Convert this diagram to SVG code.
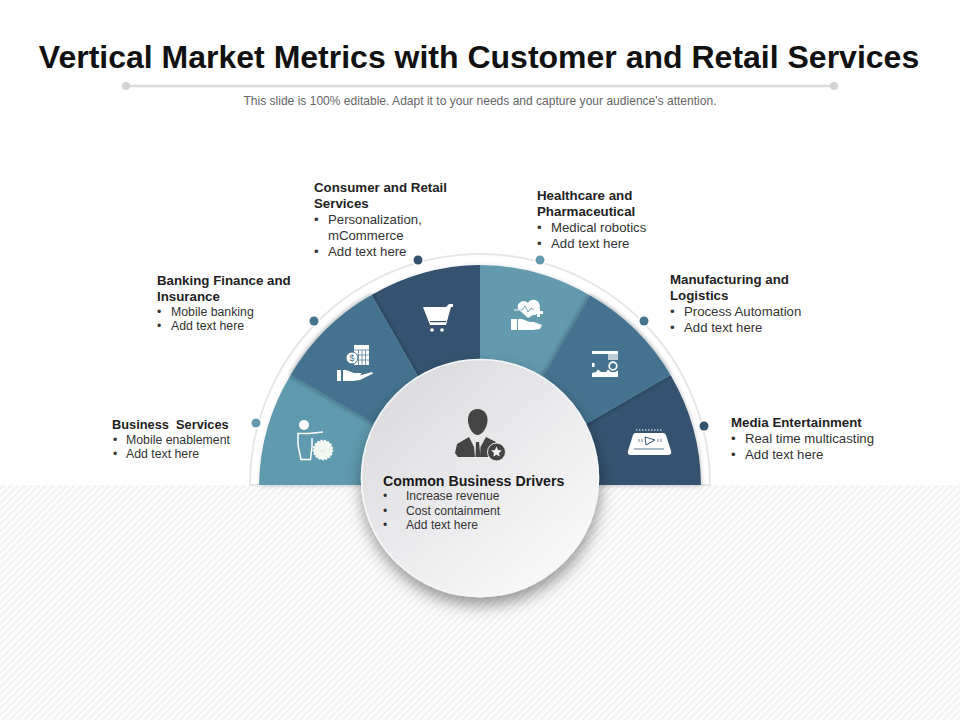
<svg xmlns="http://www.w3.org/2000/svg" width="960" height="720" viewBox="0 0 960 720">
<style>
text{font-family:"Liberation Sans",Arial,sans-serif;fill:#222}
.h{font-size:13.3px;font-weight:700}
.b{font-size:13.2px;fill:#333}
.s{font-size:12.3px;fill:#333}
.c{font-size:12.1px;fill:#333}
.i{fill:#fff}
.l{fill:none;stroke:#fff;stroke-width:1.500}
.d{stroke:#fff;stroke-width:3;paint-order:stroke}
</style>
<defs>
<pattern id="hatch" width="5" height="5" patternUnits="userSpaceOnUse" patternTransform="rotate(45)">
<rect width="5" height="5" fill="#fcfcfc"/><rect width="2" height="5" fill="#f2f2f2"/>
</pattern>
<linearGradient id="disc" x1="0.15" y1="0.1" x2="0.85" y2="0.9">
<stop offset="0" stop-color="#dcdcdf"/><stop offset="1" stop-color="#f9f9fa"/>
</linearGradient>
<filter id="seg" x="-30%" y="-30%" width="160%" height="160%"><feDropShadow dx="0" dy="0" stdDeviation="2.500" flood-color="#0a1a2a" flood-opacity="0.55"/></filter>
<filter id="soft" x="-10%" y="-10%" width="120%" height="120%"><feDropShadow dx="1" dy="1" stdDeviation="2" flood-color="#000" flood-opacity="0.2"/></filter>
<filter id="disc-s" x="-20%" y="-20%" width="140%" height="140%"><feDropShadow dx="1" dy="8" stdDeviation="8" flood-color="#000" flood-opacity="0.4"/></filter>
</defs>
<rect x="0" y="485" width="960" height="235" fill="url(#hatch)"/>
<g id="title">
<text x="479" y="68" text-anchor="middle" style="font-size:32px;font-weight:700;fill:#111">Vertical Market Metrics with Customer and Retail Services</text>
<line x1="126" y1="86" x2="834" y2="86" stroke="#dcdcdc" stroke-width="2.500"/>
<circle cx="126" cy="86" r="4" fill="#d4d4d4"/><circle cx="834" cy="86" r="4" fill="#d4d4d4"/>
<text x="480" y="105" text-anchor="middle" style="font-size:12.050px;fill:#666">This slide is 100% editable. Adapt it to your needs and capture your audience's attention.</text>
</g>
<g id="connectors">
<path d="M259 485H250A230 231 0 0 1 710 485H701" fill="#fff" stroke="#e4e6e8" stroke-width="2"/>
</g>
<g id="segments">
<g filter="url(#soft)">
<path d="M259 485A221 221 0 0 1 290.600 375L480 485Z" fill="#5f9aae"/>
<path d="M371.500 295A220 220 0 0 1 480 265V485Z" fill="#34526f"/>
<path d="M480 265A220 220 0 0 1 590 295.500L480 485Z" fill="#649aad"/>
<path d="M670.500 375A220 220 0 0 1 701 485H480Z" fill="#34526f"/>
</g>
<path filter="url(#seg)" d="M290.600 375A220 220 0 0 1 371.500 295L480 485Z" fill="#45738f"/>
<path filter="url(#seg)" d="M590 295.500A220 220 0 0 1 670.500 375L480 485Z" fill="#45738f"/>
</g>
<g id="node-business">
<circle cx="256" cy="423" r="4.500" fill="#5f9aae" class="d"/>
<circle cx="304" cy="425" r="5" class="i"/>
<path d="M323 432L309 433.500H298V445L301 459.500H310.500L312 447V438" class="l"/>
<circle cx="323" cy="450" r="9.500" fill="#f4f8f2" stroke="#fff" stroke-width="1.500" stroke-dasharray="2 1.500"/>
<path d="M320 450l2.500 2 3-3" fill="none" stroke="#cfe0c8" stroke-width="1"/>
<text class="h" x="112" y="429" style="font-size:12.800px" xml:space="preserve">Business  Services</text>
<text class="s"><tspan x="113" y="444">•</tspan><tspan x="126" y="444">Mobile enablement</tspan><tspan x="113" y="458">•</tspan><tspan x="126" y="458">Add text here</tspan></text>
</g>
<g id="node-banking">
<circle cx="314" cy="321" r="4.500" fill="#45738f" class="d"/>
<path d="M354 345H369V365H354Z" class="i"/>
<path d="M358.500 350V365M362 350V365M365.500 350V365M354 350H369M354 355H369M354 360H369" stroke="#45738f" stroke-width="0.700" fill="none"/>
<circle cx="352" cy="358" r="6" class="i" stroke="#45738f"/>
<text x="352" y="361" text-anchor="middle" style="font-size:9px;fill:#45738f">$</text>
<path d="M337 370H341V381H337ZM343 370H346L354 373H362L360 375.500 372 372 373 373.500 360 380 352 381H343Z" class="i"/>
<text class="h" x="157" y="285">Banking Finance and</text><text class="h" x="157" y="301">Insurance</text>
<text class="s"><tspan x="157" y="316">•</tspan><tspan x="171" y="316">Mobile banking</tspan><tspan x="157" y="330">•</tspan><tspan x="171" y="330">Add text here</tspan></text>
</g>
<g id="node-consumer">
<circle cx="418" cy="260" r="4.500" fill="#34526f" class="d"/>
<path d="M423 307H446L449 304H453V307H451L446 325H430Z" class="i"/>
<rect x="430" y="321" width="16" height="1.200" fill="#34526f"/>
<circle cx="432" cy="330" r="1.800" class="i"/><circle cx="442" cy="330" r="1.800" class="i"/>
<text class="h" x="314" y="192">Consumer and Retail</text><text class="h" x="314" y="208">Services</text>
<text class="b"><tspan x="314" y="224">•</tspan><tspan x="328" y="224">Personalization,</tspan><tspan x="328" y="240">mCommerce</tspan><tspan x="314" y="256">•</tspan><tspan x="328" y="256">Add text here</tspan></text>
</g>
<g id="node-healthcare">
<circle cx="540" cy="260" r="4.500" fill="#649aad" class="d"/>
<path d="M528 318L518 309A6 6 0 0 1 528 303A6 6 0 0 1 539 309V311H536V315H533Z" class="i"/>
<path d="M534 311h3v-3h3v3h3v3h-3v3h-3v-3h-3Z" class="i"/>
<path d="M514 310H522L525 306 528 312 531 308 534 310" fill="none" stroke="#649aad" stroke-width="0.900"/>
<line x1="514" y1="310" x2="521" y2="310" stroke="#fff" stroke-width="0.900"/>
<path d="M511 319H517V330H511ZM518 319H522L530 322H534L542 325 540 329 533 330H518Z" class="i"/>
<text class="h" x="537" y="200">Healthcare and</text><text class="h" x="537" y="216">Pharmaceutical</text>
<text class="b"><tspan x="537" y="232">•</tspan><tspan x="551" y="232">Medical robotics</tspan><tspan x="537" y="248">•</tspan><tspan x="551" y="248">Add text here</tspan></text>
</g>
<g id="node-manufacturing">
<circle cx="644" cy="321" r="4.500" fill="#45738f" class="d"/>
<rect x="592" y="351" width="26" height="3" class="i"/><rect x="592" y="363" width="2.500" height="4" class="i"/>
<rect x="608" y="354" width="10" height="6" class="i" opacity="0.650"/>
<circle cx="613" cy="366" r="3.800" fill="none" stroke="#fff" stroke-width="1.800"/>
<path d="M592 377V373L596 372 598 369.500 601 372 606 372 608 369.500 611 372 615 372 618 370.500V377Z" class="i"/>
<text class="h" x="670" y="284">Manufacturing and</text><text class="h" x="670" y="300">Logistics</text>
<text class="b"><tspan x="670" y="316">•</tspan><tspan x="684" y="316">Process Automation</tspan><tspan x="670" y="332">•</tspan><tspan x="684" y="332">Add text here</tspan></text>
</g>
<g id="node-media">
<circle cx="704" cy="426" r="4.500" fill="#34526f" class="d"/>
<line x1="636" y1="430" x2="663" y2="430" stroke="#fff" stroke-width="1" stroke-dasharray="1.500 1.500"/>
<path d="M635 433H663Q665 433 666 435L671 451Q672 455 668 455H631Q627 455 628 451L633 435Q634 433 635 433Z" class="i"/>
<path d="M645 437L655 440 646 445Z" fill="#fff" stroke="#34526f" stroke-width="1"/>
<line x1="634" y1="449" x2="664" y2="449" stroke="#34526f" stroke-width="0.800"/>
<path d="M639 439v3M642 439v3M658 439v3M661 439v3" stroke="#34526f" stroke-width="0.700"/>
<text class="h" x="731" y="427">Media Entertainment</text>
<text class="b"><tspan x="731" y="443">•</tspan><tspan x="745" y="443">Real time multicasting</tspan><tspan x="731" y="459">•</tspan><tspan x="745" y="459">Add text here</tspan></text>
</g>
<g id="node-center">
<circle cx="480" cy="478" r="118.500" fill="url(#disc)" stroke="#f4f8f9" stroke-width="1.500" filter="url(#disc-s)"/>
<path d="M477.500 409C484 409 488 414 487.500 421C487 428 482 435 477.500 435C473 435 468.500 428 468 421C467.500 414 471 409 477.500 409Z" fill="#444"/>
<path d="M455 453L457 444 469 437 474 447 475 457H458ZM480.500 447L486 437 496 442 488 457H480Z" fill="#444"/>
<path d="M476 442H479L480.500 457H475.500Z" fill="#444"/>
<circle cx="496.500" cy="452" r="9" fill="#444" stroke="#e8e8ea" stroke-width="1"/>
<path d="M496.500 446.500l1.600 3.500 3.700.4-2.800 2.500.8 3.700-3.300-1.900-3.300 1.900.8-3.700-2.800-2.500 3.700-.4Z" fill="#eee"/>
<text x="383" y="486" style="font-size:14.200px;font-weight:700;fill:#1a1a1a">Common Business Drivers</text>
<text class="c"><tspan x="383" y="500">•</tspan><tspan x="406" y="500">Increase revenue</tspan><tspan x="383" y="515">•</tspan><tspan x="406" y="515">Cost containment</tspan><tspan x="383" y="529">•</tspan><tspan x="406" y="529">Add text here</tspan></text>
</g>
</svg>
